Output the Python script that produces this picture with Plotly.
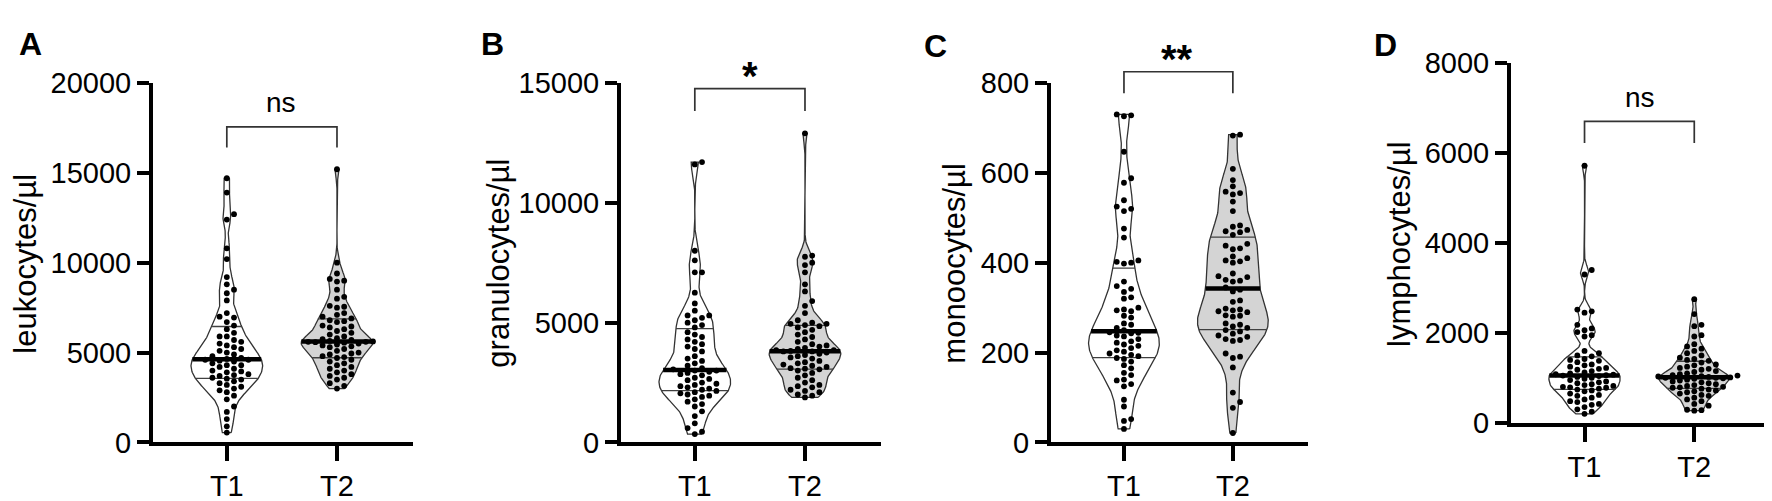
import numpy as np
import plotly.graph_objects as go

# ---------------- data ----------------
groups = ["T1", "T2"]

leuko_t1 = [14700, 13900, 12700, 12400, 10800, 10200, 9200, 8800, 8500, 8300, 7900, 7200, 7000, 6950, 6700, 6500,
            6300, 6100, 5900, 5900, 5700, 5600, 5500, 5400, 5300, 5200, 5100, 5000, 4900, 4800, 4700, 4650,
            4600, 4600, 4550, 4500, 4400, 4300, 4300, 4200, 4100, 4000, 3950, 3900, 3800, 3750, 3700, 3600,
            3550, 3500, 3400, 3300, 3200, 3100, 3000, 2900, 2800, 2600, 2400, 2000, 1700, 1300, 900, 550]
leuko_t2 = [15200, 10000, 9400, 9100, 9000, 8950, 8500, 8100, 8000, 7600, 7550, 7500, 7200, 7100, 7000, 6900,
            6800, 6750, 6700, 6500, 6450, 6400, 6300, 6200, 6100, 6000, 5900, 5800, 5750, 5700, 5650, 5620,
            5600, 5600, 5580, 5550, 5500, 5450, 5400, 5350, 5300, 5200, 5100, 5000, 4950, 4900, 4800, 4750,
            4700, 4600, 4500, 4400, 4300, 4200, 4100, 4000, 3900, 3800, 3700, 3600, 3500, 3300, 3150, 3000]

granulo_t1 = [11700, 11600, 8000, 7600, 7100, 7100, 6250, 5800, 5500, 5300, 5300, 5200, 5100, 5000, 4900, 4800,
              4600, 4500, 4400, 4300, 4200, 4100, 4000, 3900, 3800, 3600, 3500, 3400, 3300, 3200, 3100, 3050,
              3000, 3000, 2950, 2900, 2850, 2800, 2700, 2650, 2600, 2500, 2450, 2400, 2350, 2300, 2250, 2200,
              2150, 2100, 2050, 2000, 1950, 1900, 1800, 1700, 1600, 1500, 1300, 1100, 800, 600, 450, 350]
granulo_t2 = [12900, 7800, 7750, 7500, 7400, 7100, 6600, 6300, 5900, 5700, 5400, 5100, 5000, 4950, 4950, 4900,
              4850, 4800, 4700, 4600, 4500, 4400, 4300, 4200, 4100, 4050, 4000, 3950, 3900, 3850, 3850, 3820,
              3800, 3800, 3750, 3700, 3650, 3600, 3550, 3500, 3400, 3350, 3300, 3250, 3200, 3150, 3100, 3080,
              3050, 3000, 2900, 2800, 2700, 2600, 2500, 2400, 2350, 2300, 2200, 2150, 2100, 2000, 1950, 1880]

mono_t1 = [730, 728, 726, 647, 588, 578, 539, 525, 520, 515, 476, 456, 405, 402, 400, 398,
           358, 348, 342, 335, 323, 320, 300, 296, 294, 292, 282, 278, 265, 262, 255, 250,
           245, 244, 243, 238, 236, 230, 225, 222, 218, 215, 210, 205, 202, 198, 195, 192,
           188, 186, 180, 172, 165, 155, 150, 140, 138, 130, 125, 95, 80, 52, 48, 30]
mono_t2 = [685, 683, 609, 584, 570, 558, 555, 552, 536, 515, 483, 480, 473, 470, 468, 462,
           442, 438, 432, 430, 414, 410, 405, 403, 400, 376, 370, 368, 362, 360, 358, 345,
           340, 336, 316, 313, 298, 296, 294, 292, 290, 283, 282, 280, 265, 262, 258, 255,
           250, 247, 242, 238, 235, 230, 228, 226, 198, 191, 188, 167, 111, 90, 77, 21]

lympho_t1 = [5720, 3400, 3300, 2520, 2480, 2450, 2180, 2100, 2060, 2020, 1950, 1920, 1600, 1550, 1500, 1480,
             1420, 1400, 1380, 1350, 1300, 1280, 1250, 1220, 1200, 1180, 1150, 1120, 1100, 1080, 1070, 1060,
             1050, 1040, 1020, 1000, 980, 950, 920, 900, 880, 860, 840, 820, 800, 790, 780, 760,
             740, 720, 700, 650, 620, 600, 560, 520, 480, 460, 420, 400, 350, 300, 250, 200]
lympho_t2 = [2750, 2420, 2180, 2150, 1950, 1920, 1750, 1700, 1650, 1600, 1550, 1500, 1450, 1420, 1400, 1380,
             1340, 1300, 1280, 1250, 1220, 1200, 1180, 1150, 1130, 1100, 1080, 1060, 1050, 1040, 1030, 1020,
             1010, 1000, 1000, 990, 980, 960, 940, 920, 900, 880, 860, 840, 820, 800, 790, 780,
             760, 740, 720, 700, 680, 650, 620, 600, 560, 520, 480, 420, 380, 290, 280, 270]

panel_letters = ["A", "B", "C", "D"]
y_titles = ["leukocytes/µl", "granulocytes/µl", "monoocytes/µl", "lymphocytes/µl"]
y_ticks = [[0, 5000, 10000, 15000, 20000],
           [0, 5000, 10000, 15000],
           [0, 200, 400, 600, 800],
           [0, 2000, 4000, 6000, 8000]]
significance = ["ns", "*", "**", "ns"]
series = [(leuko_t1, leuko_t2), (granulo_t1, granulo_t2), (mono_t1, mono_t2), (lympho_t1, lympho_t2)]

# ---------------- layout constants (pixels) ----------------
W, H = 1772, 501
X_DOM = [(145, 405), (613, 873), (1043, 1300), (1503, 1762)]
Y_DOM = [(63, 447), (63, 447), (63, 447), (42, 426)]   # (top, bottom)
XR = [-0.67, 1.69]
LETTER_POS = [(22, 21), (485, 21), (927, 24), (1377, 22)]
TITLE_POS = [(18, 256), (491, 256), (947, 256), (1392, 235)]
BRACKET = [(110, 132), (69, 93), (51, 74), (104, 127)]     # (top, foot) px
SIG_POS = [(273, 84), (742, 56), (1169, 37), (1632, 78)]
HALF_W = 0.325
FILLS = ["white", "#d4d4d4"]
FONT = "Liberation Sans, Arial, sans-serif"
BW_FACTOR = 0.55


def kde(vals, grid, bw):
    v = np.asarray(vals, float)[:, None]
    return np.exp(-0.5 * ((np.asarray(grid)[None, :] - v) / bw) ** 2).sum(0)


def bandwidth(vals):
    v = np.asarray(vals, float)
    iqr = np.subtract(*np.percentile(v, [75, 25]))
    s = min(v.std(ddof=1), iqr / 1.349)
    return BW_FACTOR * 1.06 * s * len(v) ** -0.2


def swarm(vals, ppu_y, sep):
    vals = np.asarray(vals, float)
    order = np.argsort(vals)
    placed = []
    offs = np.zeros(len(vals))
    cands = [0]
    for k in range(1, 30):
        cands += [k, -k]
    for i in order:
        y = vals[i] * ppu_y
        for k in cands:
            x = k * sep
            if all((x - px) ** 2 + (y - py) ** 2 >= (sep * 0.93) ** 2 for px, py in placed):
                break
        placed.append((x, y))
        offs[i] = x
    return offs


fig = go.Figure()
layout = dict(width=W, height=H, margin=dict(l=0, r=0, t=0, b=0),
              paper_bgcolor="white", plot_bgcolor="white", showlegend=False,
              font=dict(family=FONT, color="black"))
shapes, annotations = [], []

for i in range(4):
    sfx = "" if i == 0 else str(i + 1)
    xa, ya = "x" + sfx, "y" + sfx
    ymax = y_ticks[i][-1]
    top, bot = Y_DOM[i]
    x0, x1 = X_DOM[i]
    ppu_y = (bot - top) / ymax
    ppu_x = (x1 - x0) / (XR[1] - XR[0])

    for g, vals in enumerate(series[i]):
        vals = np.asarray(vals, float)
        bw = bandwidth(vals)
        grid = np.linspace(vals.min(), vals.max(), 300)
        dens = kde(vals, grid, bw)
        dmax = dens.max()
        hw = HALF_W * dens / dmax
        xs = np.concatenate([g + hw, (g - hw)[::-1], [g + hw[0]]])
        ys = np.concatenate([grid, grid[::-1], [grid[0]]])
        fig.add_trace(go.Scatter(x=xs, y=ys, xaxis=xa, yaxis=ya, mode="lines", fill="toself",
                                 fillcolor=FILLS[g], line=dict(color="#333333", width=1.3),
                                 hoverinfo="skip"))
        q1, med, q3 = np.percentile(vals, [25, 50, 75], method="weibull")
        for q, lw, col in [(q1, 1.3, "#404040"), (q3, 1.3, "#404040"), (med, 4.5, "black")]:
            h = HALF_W * kde(vals, [q], bw)[0] / dmax
            fig.add_trace(go.Scatter(x=[g - h, g + h], y=[q, q], xaxis=xa, yaxis=ya, mode="lines",
                                     line=dict(color=col, width=lw), hoverinfo="skip"))
        offs = swarm(vals, ppu_y, 7.2) / ppu_x
        fig.add_trace(go.Scatter(x=g + offs, y=vals, xaxis=xa, yaxis=ya, mode="markers",
                                 marker=dict(color="black", size=5.8), hoverinfo="skip"))

    layout["xaxis" + sfx] = dict(domain=[x0 / W, x1 / W], range=XR, anchor=ya,
                                 tickvals=[0, 1], ticktext=groups, showline=True, linewidth=4,
                                 linecolor="black", ticks="outside", ticklen=15, tickwidth=3.5,
                                 tickcolor="black", showgrid=False, zeroline=False,
                                 tickfont=dict(size=29, family=FONT, color="black"))
    layout["yaxis" + sfx] = dict(domain=[1 - bot / H, 1 - top / H], range=[0, ymax], anchor=xa,
                                 tickvals=y_ticks[i], tickformat="d", showline=True, linewidth=4,
                                 linecolor="black", ticks="outside", ticklen=12, tickwidth=3.5,
                                 tickcolor="black", showgrid=False, zeroline=False,
                                 tickfont=dict(size=29, family=FONT, color="black"))

    # bracket
    bt, bf = BRACKET[i]
    fx = [(c - XR[0]) / (XR[1] - XR[0]) for c in (0, 1)]
    pts = [(fx[0], bf), (fx[0], bt), (fx[1], bt), (fx[1], bf)]
    path = "M " + " L ".join(f"{px},{1 - py / H}" for px, py in pts)
    shapes.append(dict(type="path", xref=xa + " domain", yref="paper", path=path,
                       line=dict(color="#333333", width=1.7)))
    sx, sy = SIG_POS[i]
    is_ns = significance[i] == "ns"
    annotations.append(dict(text=significance[i] if is_ns else "<b>" + significance[i] + "</b>",
                            x=sx / W, y=1 - sy / H, xref="paper", yref="paper",
                            showarrow=False, xanchor="center", yanchor="middle",
                            font=dict(size=28 if is_ns else 40, family=FONT, color="black")))
    lx, ly = LETTER_POS[i]
    annotations.append(dict(text="<b>" + panel_letters[i] + "</b>", x=lx / W, y=1 - ly / H,
                            xref="paper", yref="paper", showarrow=False, xanchor="center",
                            yanchor="middle", font=dict(size=32, family=FONT, color="black")))
    tx, ty = TITLE_POS[i]
    annotations.append(dict(text=y_titles[i], x=tx / W, y=1 - ty / H, xref="paper", yref="paper",
                            showarrow=False, xanchor="center", yanchor="middle", textangle=-90,
                            font=dict(size=31, family=FONT, color="black")))

layout["shapes"] = shapes
layout["annotations"] = annotations
fig.update_layout(**layout)
fig.write_html("out.html")
